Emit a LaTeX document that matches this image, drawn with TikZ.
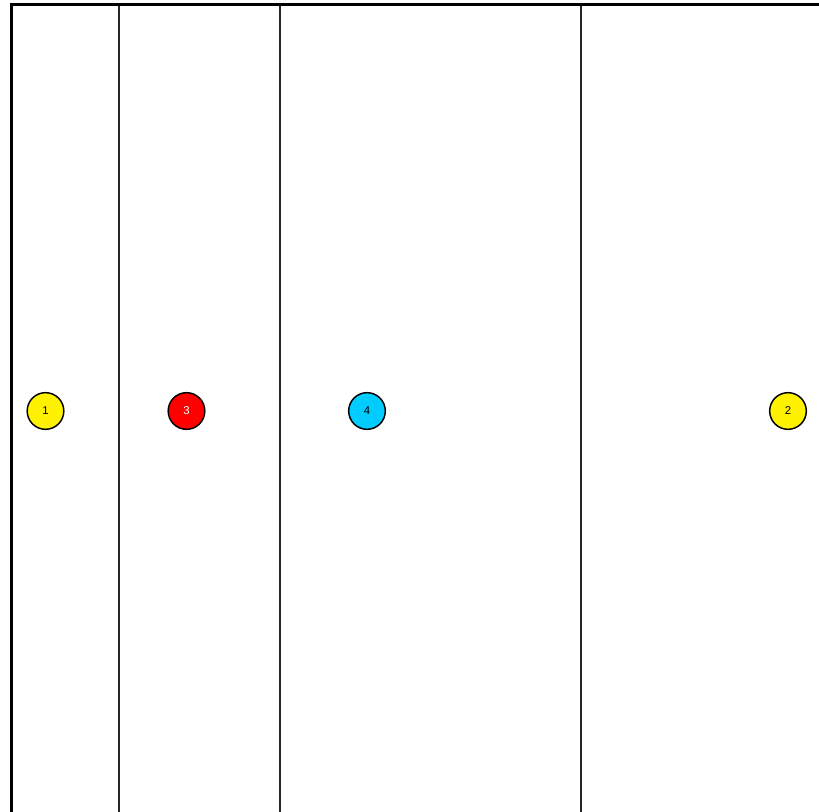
\documentclass[tikz,border=0pt]{standalone}
\usepackage{fontspec}
\setmainfont{Liberation Sans}
\definecolor{cyanball}{HTML}{00CCFF}
\begin{document}
\begin{tikzpicture}[x=0.75pt,y=-0.75pt,
  ball/.style={circle,draw=black,line width=1.1pt,minimum size=27.5pt,inner sep=0pt,font=\fontsize{8.5}{10}\selectfont},
  divider/.style={draw=black!85,line width=1.5pt}]
\useasboundingbox (0,0) rectangle (819,812);
\fill[white] (0,0) rectangle (819,812);
\coordinate (tl) at (11.5,4.5);
\coordinate (tr) at (822,4.5);
\coordinate (bl) at (11.5,815);
\draw[line width=2.4pt] (bl) -- (tl) -- (tr);
\foreach \x/\n in {118.5/a,279.5/b,580.5/c}{
  \coordinate (\n t) at (\x,6);
  \coordinate (\n b) at (\x,815);
  \draw[divider] (\n t) -- (\n b);
}
\node[ball,fill=yellow] (n1) at (45.5,411) {1};
\node[ball,fill=red,text=white] (n3) at (186.5,411) {3};
\node[ball,fill=cyanball] (n4) at (367,411) {4};
\node[ball,fill=yellow] (n2) at (788,411) {2};
\end{tikzpicture}
\end{document}
